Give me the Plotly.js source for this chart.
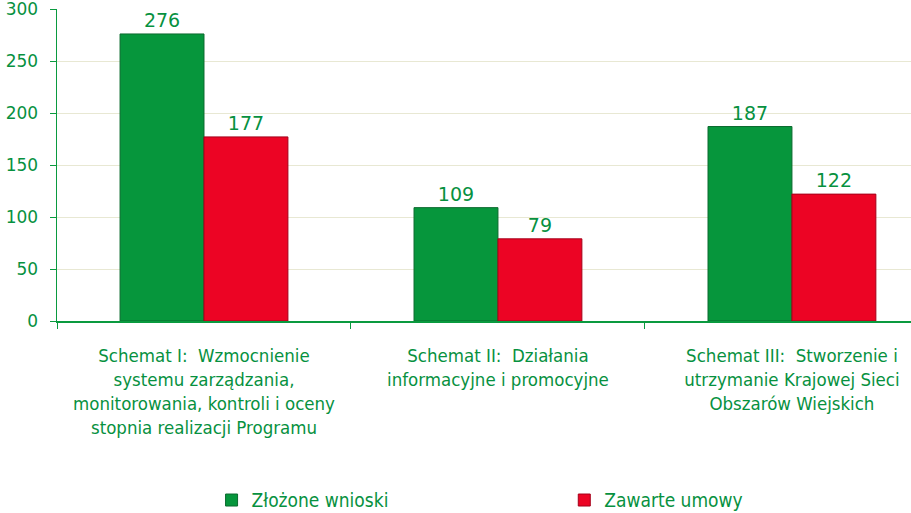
<!DOCTYPE html>
<html>
<head>
<meta charset="utf-8">
<script src="https://cdn.plot.ly/plotly-3.0.1.min.js"></script>
<style>html,body{margin:0;padding:0;background:#fff;}#chart{width:911px;height:513px;}</style>
</head>
<body>
<div id="chart"></div>
<script>
const categories = [
  "Schemat I:  Wzmocnienie<br>systemu zarządzania,<br>monitorowania, kontroli i oceny<br>stopnia realizacji Programu",
  "Schemat II:  Działania<br>informacyjne i promocyjne",
  "Schemat III:  Stworzenie i<br>utrzymanie Krajowej Sieci<br>Obszarów Wiejskich"
];
const seriesNames = ["Złożone wnioski", "Zawarte umowy"];
const zlozone = [276, 109, 187];
const zawarte = [177, 79, 122];
const yTicks = [0, 50, 100, 150, 200, 250, 300];

const GREEN_TEXT = "#07913F";
const font = "DejaVu Sans Condensed, DejaVu Sans, sans-serif";

const traces = [
  {type: "bar", name: seriesNames[0], x: categories, y: zlozone,
   marker: {color: "#06963C", line: {color: "#0B6A2E", width: 1}},
   text: zlozone.map(String), textposition: "outside", cliponaxis: false,
   textfont: {color: GREEN_TEXT, size: 19, family: "DejaVu Sans, sans-serif"},
   legend: "legend"},
  {type: "bar", name: seriesNames[1], x: categories, y: zawarte,
   marker: {color: "#EC0424", line: {color: "#A5001A", width: 1}},
   text: zawarte.map(String), textposition: "outside", cliponaxis: false,
   textfont: {color: GREEN_TEXT, size: 19, family: "DejaVu Sans, sans-serif"},
   legend: "legend2"}
];

const legendBase = {
  orientation: "h", xanchor: "left", yanchor: "middle", yref: "container", y: 0.025,
  font: {family: font, size: 19, color: GREEN_TEXT},
  bgcolor: "rgba(0,0,0,0)", borderwidth: 0
};

const layout = {
  width: 911, height: 513,
  margin: {l: 57, r: 0, t: 9, b: 192},
  paper_bgcolor: "#fff", plot_bgcolor: "#fff",
  barmode: "group", bargap: 0.429, bargroupgap: 0,
  showlegend: true,
  font: {family: font, color: GREEN_TEXT, size: 16},
  xaxis: {
    type: "category", automargin: false,
    range: [-0.5, 2.405],
    showline: true, linecolor: "#0A9A3F", linewidth: 1.5,
    ticks: "outside", tickson: "boundaries", ticklen: 6, tickcolor: "#0A9A3F",
    tickfont: {family: font, size: 18.5, color: GREEN_TEXT},
    ticklabelstandoff: 17,
    showgrid: false, zeroline: false, tickangle: 0
  },
  yaxis: {
    automargin: false,
    range: [0, 300], tickvals: yTicks, ticktext: yTicks.map(String),
    showline: true, linecolor: "#0A9A3F", linewidth: 1.5,
    ticks: "outside", ticklen: 6, tickcolor: "#0A9A3F",
    tickfont: {family: "DejaVu Sans, sans-serif", size: 17, color: GREEN_TEXT},
    ticklabelstandoff: 8, ticklabeloverflow: "allow",
    showgrid: true, gridcolor: "#E8E8D3", gridwidth: 1, zeroline: false
  },
  legend: Object.assign({}, legendBase, {x: 0.181}),
  legend2: Object.assign({}, legendBase, {x: 0.594})
};

Plotly.newPlot("chart", traces, layout, {staticPlot: true, displayModeBar: false});
</script>
</body>
</html>
